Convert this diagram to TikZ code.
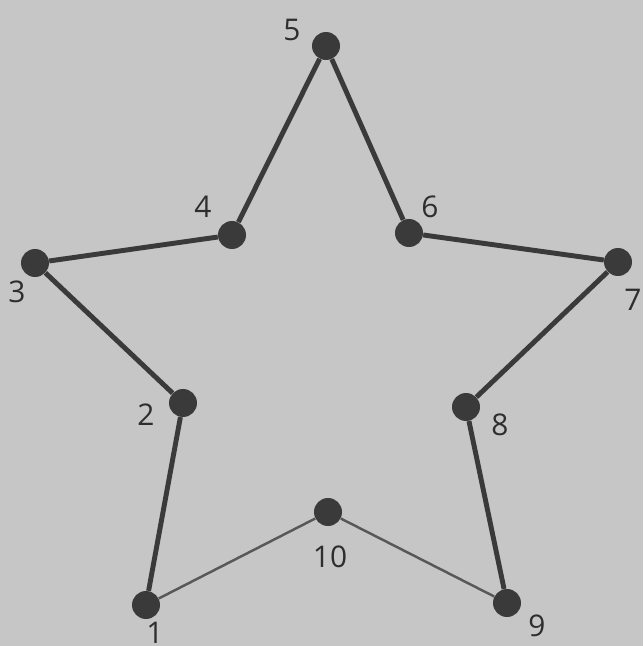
\documentclass[tikz,border=0pt]{standalone}
\usepackage{fontspec}
\setmainfont{Open Sans}
\usetikzlibrary{positioning}
\definecolor{papel}{RGB}{198, 198, 198}
\definecolor{tinta}{RGB}{58, 58, 58}

\begin{document}
\begin{tikzpicture}[
                ponto/.style={circle, fill=tinta, minimum size=0.56cm, inner sep=0pt},
                num/.style={text=tinta!80!black, font=\fontsize{17}{20}\selectfont, inner sep=0pt},
                grossa/.style={line width=2.8pt, color=tinta},
                fina/.style={line width=1.4pt, color=tinta!85}
            ]
                \fill[papel] (0,0) rectangle (12.86,12.92);
                \useasboundingbox (0,0) rectangle (12.86,12.92);
                \node[ponto] (p1)  at (2.92, 0.82)  {};
                \node[ponto] (p2)  at (3.66, 4.86)  {};
                \node[ponto] (p3)  at (0.70, 7.66)  {};
                \node[ponto] (p4)  at (4.64, 8.22)  {};
                \node[ponto] (p5)  at (6.52, 12.00) {};
                \node[ponto] (p6)  at (8.18, 8.26)  {};
                \node[ponto] (p7)  at (12.36, 7.68) {};
                \node[ponto] (p8)  at (9.32, 4.78)  {};
                \node[ponto] (p9)  at (10.14, 0.86) {};
                \node[ponto] (p10) at (6.56, 2.68)  {};
                \node[num] (n1)  at (3.10, 0.26)  {1};
                \node[num] (n2)  at (2.92, 4.62)  {2};
                \node[num] (n3)  at (0.34, 7.08)  {3};
                \node[num] (n4)  at (4.06, 8.78)  {4};
                \node[num] (n5)  at (5.84, 12.32) {5};
                \node[num] (n6)  at (8.60, 8.78)  {6};
                \node[num] (n7)  at (12.66, 6.92) {7};
                \node[num] (n8)  at (10.00, 4.42) {8};
                \node[num] (n9)  at (10.74, 0.40) {9};
                \node[num] (n10) at (6.60, 1.78)  {10};
                \draw[grossa] (p1) -- (p2);
                \draw[grossa] (p2) -- (p3);
                \draw[grossa] (p3) -- (p4);
                \draw[grossa] (p4) -- (p5);
                \draw[grossa] (p5) -- (p6);
                \draw[grossa] (p6) -- (p7);
                \draw[grossa] (p7) -- (p8);
                \draw[grossa] (p8) -- (p9);
                \draw[fina] (p1) -- (p10);
                \draw[fina] (p10) -- (p9);
            \end{tikzpicture}
\end{document}
